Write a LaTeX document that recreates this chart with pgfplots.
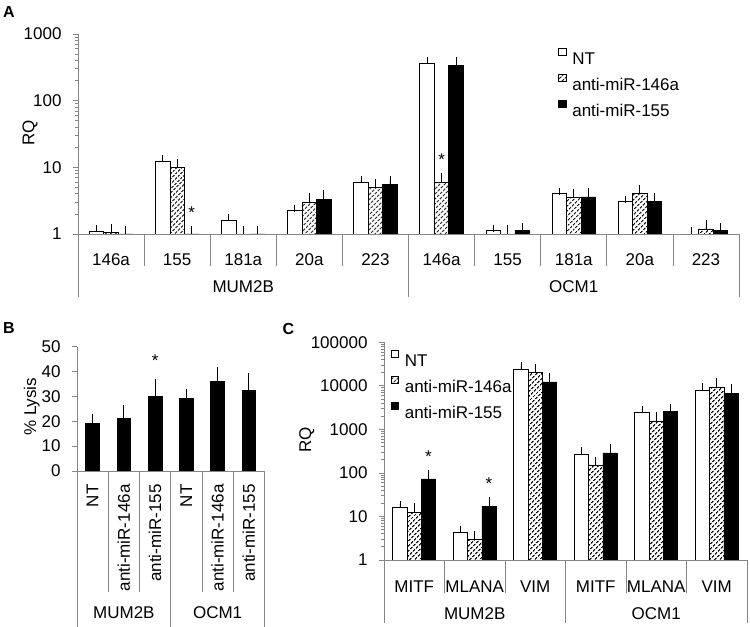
\documentclass[border=0pt]{standalone}
\usepackage{fontspec}
\setmainfont{Liberation Sans}
\usepackage{pgfplots}
\usepackage{pgfplotstable}
\pgfplotsset{compat=1.18}
\usetikzlibrary{patterns,patterns.meta}
\definecolor{axgray}{RGB}{134,134,134}
\newcommand\myfont{\fontsize{17bp}{20bp}\selectfont}

\pgfplotstableread{
x nt ntE a146 a146E a155 a155E
0 1.10 0.10 1.05 0.20 0.90 0.27
1 12.3 1.30 9.9 1.80 0.90 0.27
2 1.62 0.14 0.90 0.27 0.90 0.27
3 2.24 0.21 3.0 0.60 3.30 0.70
4 6.0 0.50 5.0 1.00 5.56 1.04
5 360 40 5.96 1.24 333 65
6 1.12 0.07 0.95 0.24 1.12 0.18
7 4.05 0.35 3.5 0.70 3.6 0.70
8 3.05 0.25 4.0 0.80 3.05 0.55
9 0.98 0.13 1.19 0.26 1.12 0.18
}\dataA

\pgfplotstableread{
x ly lyE
0 19.1 2.6
1 21.3 3.9
2 30.0 5.7
3 29.1 2.6
4 36.0 4.5
5 32.3 5.7
}\dataB

\pgfplotstableread{
x nt ntE a146 a146E a155 a155E
0 16.2 3.1 12.4 4.7 72.5 23.5
1 4.3 0.85 2.98 0.9 17.1 5.6
2 24000 5000 20000 6000 12300 4200
3 272 58 152 46 288 92
4 2420 480 1560 470 2560 690
5 7900 1700 9300 3000 6700 2400
}\dataC

\pgfplotsset{
  excel/.style={
    scale only axis,
    axis lines*=left,
    axis line style={axgray, line width=0.8bp},
    tick align=outside,
    major tick length=5bp,
    ytick style={axgray, line width=0.8bp},
    xtick style={axgray, line width=0.8bp},
    tick label style={font=\myfont, black},
    yticklabel style={xshift=-8bp},
    x tick label as interval,
    clip mode=individual,
    ybar=0pt,
    error bars/y dir=plus,
    error bars/y explicit,
    error bars/error bar style={black, line width=0.8bp},
    error bars/error mark options={black, line width=0.8bp, mark size=3.5bp},
    legend image code/.code={\draw[##1, line width=0.8bp] (0bp,2.3bp) rectangle (7.5bp,9.8bp); \path (13.3bp,0bp);},
    legend cell align=left,
    legend style={draw=none, fill=none, font=\myfont, inner sep=0pt, outer sep=0pt,
      column sep=0pt, row sep=9.7bp,
      nodes={inner sep=0pt, outer sep=0pt, text height=12.2bp, text depth=0pt}},
  },
  ntbar/.style={draw=black, fill=white, line width=0.8bp},
  hbar/.style={draw=black, pattern={Lines[angle=45, distance=3.6bp, line width=1.2bp]}, line width=0.8bp},
  bbar/.style={draw=black, fill=black, line width=0.8bp},
}

\begin{document}
\begin{tikzpicture}[x=1bp,y=1bp]
\useasboundingbox (0,0) rectangle (750,627);

% ---------------- Panel A ----------------
\begin{axis}[excel,
  at={(78bp,393bp)}, anchor=south west,
  width=661bp, height=200bp,
  ymode=log, ymin=1, ymax=1000,
  ytick={1,10,100,1000}, yticklabels={1,10,100,1000},
  xmin=-0.5, xmax=9.5,
  xtick={-0.5,0.5,...,9.5},
  xticklabels={146a,155,181a,20a,223,146a,155,181a,20a,223},
  xtick style={/pgfplots/major tick length=32bp},
  xticklabel style={anchor=base, yshift=-27bp},
  extra x ticks={-0.5,4.5,9.5}, extra x tick labels={},
  extra x tick style={xtick style={/pgfplots/major tick length=63bp}},
  bar width=14.5bp,
  legend style={at={(axis description cs:0.7265,0.93)}, anchor=north west},
]
\addplot[ntbar] table[x=x,y=nt,y error=ntE]{\dataA};
\addplot[hbar] table[x=x,y=a146,y error=a146E]{\dataA};
\addplot[bbar] table[x=x,y=a155,y error=a155E]{\dataA};
\legend{NT,anti-miR-146a,anti-miR-155}
\node[font=\myfont, anchor=base, yshift=-59bp] at (axis cs:2,1) {MUM2B};
\node[font=\myfont, anchor=base, yshift=-59bp] at (axis cs:7,1) {OCM1};
\node[font=\myfont, anchor=base, yshift=-10bp] at (axis cs:1.219,2.45) {*};
\node[font=\myfont, anchor=base, yshift=-10bp] at (axis cs:5,15.2) {*};
\end{axis}

% ---------------- Panel B ----------------
\begin{axis}[excel,
  at={(77bp,156bp)}, anchor=south west,
  width=187.5bp, height=124.3bp,
  ymin=0, ymax=50,
  ytick={0,10,20,30,40,50}, yticklabels={0,10,20,30,40,50},
  xmin=-0.5, xmax=5.5,
  xtick={-0.5,0.5,...,5.5},
  xticklabels={NT,anti-miR-146a,anti-miR-155,NT,anti-miR-146a,anti-miR-155},
  xtick style={/pgfplots/major tick length=120.7bp},
  xticklabel style={rotate=90, anchor=east, xshift=-5bp},
  extra x ticks={-0.5,2.5,5.5}, extra x tick labels={},
  extra x tick style={xtick style={/pgfplots/major tick length=156bp}},
  bar width=13.7bp,
]
\addplot[bbar] table[x=x,y=ly,y error=lyE]{\dataB};
\node[font=\myfont, anchor=base, yshift=-148bp] at (axis cs:1,0) {MUM2B};
\node[font=\myfont, anchor=base, yshift=-148bp] at (axis cs:4,0) {OCM1};
\node[font=\myfont, anchor=base, yshift=-10bp] at (axis cs:2,46) {*};
\end{axis}

% ---------------- Panel C ----------------
\begin{axis}[excel,
  at={(384bp,67bp)}, anchor=south west,
  width=363bp, height=217.7bp,
  ymode=log, ymin=1, ymax=100000,
  ytick={1,10,100,1000,10000,100000}, yticklabels={1,10,100,1000,10000,100000},
  xmin=-0.5, xmax=5.5,
  xtick={-0.5,0.5,...,5.5},
  xticklabels={MITF,MLANA,VIM,MITF,MLANA,VIM},
  xtick style={/pgfplots/major tick length=33.3bp},
  xticklabel style={anchor=base, yshift=-27.8bp},
  extra x ticks={-0.5,2.5,5.5}, extra x tick labels={},
  extra x tick style={xtick style={/pgfplots/major tick length=63.3bp}},
  bar width=14.3bp,
  legend style={at={(axis description cs:0.0185,0.965)}, anchor=north west},
]
\addplot[ntbar] table[x=x,y=nt,y error=ntE]{\dataC};
\addplot[hbar] table[x=x,y=a146,y error=a146E]{\dataC};
\addplot[bbar] table[x=x,y=a155,y error=a155E]{\dataC};
\legend{NT,anti-miR-146a,anti-miR-155}
\node[font=\myfont, anchor=base, yshift=-59.4bp] at (axis cs:1,1) {MUM2B};
\node[font=\myfont, anchor=base, yshift=-59.4bp] at (axis cs:4,1) {OCM1};
\node[font=\myfont, anchor=base, yshift=-10bp] at (axis cs:0.236,290) {*};
\node[font=\myfont, anchor=base, yshift=-10bp] at (axis cs:1.236,69) {*};
\end{axis}

% titles and axis labels
\node[font=\bfseries\fontsize{16bp}{18bp}\selectfont] at (9,614.5) {A};
\node[font=\bfseries\fontsize{16bp}{18bp}\selectfont] at (9,299) {B};
\node[font=\bfseries\fontsize{16bp}{18bp}\selectfont] at (288.5,298) {C};
\node[rotate=90, font=\myfont] at (30,494) {RQ};
\node[rotate=90, font=\myfont] at (31.7,220.3) {\% Lysis};
\node[rotate=90, font=\myfont] at (306.7,187) {RQ};
\end{tikzpicture}
\end{document}
